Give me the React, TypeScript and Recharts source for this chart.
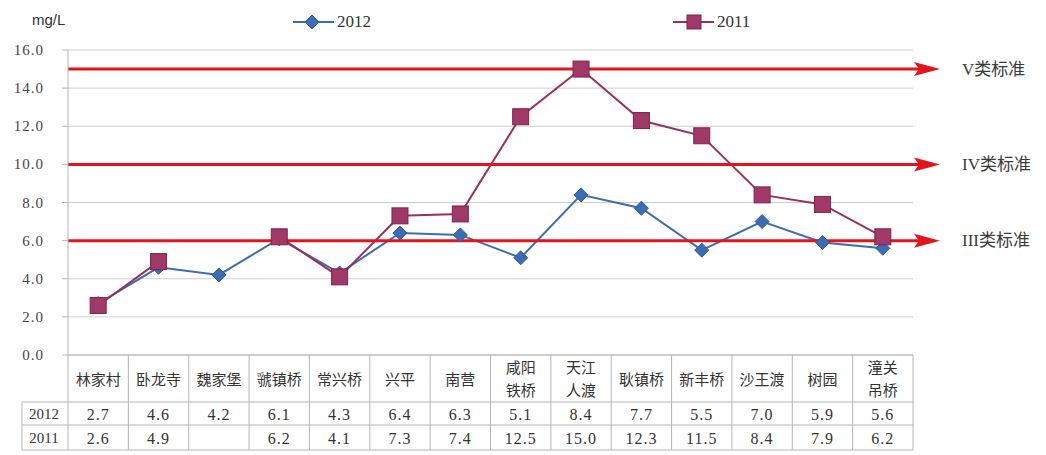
import React from "react";
import { CartesianGrid, Line, LineChart, ReferenceLine, XAxis, YAxis } from "recharts";

const sites = [
  "林家村", "卧龙寺", "魏家堡", "虢镇桥", "常兴桥", "兴平", "南营",
  "咸阳\n铁桥", "天江\n人渡", "耿镇桥", "新丰桥", "沙王渡", "树园", "潼关\n吊桥",
];
const values2012 = [2.7, 4.6, 4.2, 6.1, 4.3, 6.4, 6.3, 5.1, 8.4, 7.7, 5.5, 7.0, 5.9, 5.6];
const values2011 = [2.6, 4.9, null, 6.2, 4.1, 7.3, 7.4, 12.5, 15.0, 12.3, 11.5, 8.4, 7.9, 6.2];
const yTicks = [0, 2, 4, 6, 8, 10, 12, 14, 16];
const standardValues = [15, 10, 6];
const standardLabels = ["V类标准", "IV类标准", "III类标准"];

const W = 1046;
const H = 455;
const LEFT = 68;
const RIGHT_M = 133;
const COL_W = (W - LEFT - RIGHT_M) / sites.length;

const BLUE = "#3c6cb2";
const MAROON = "#98305c";
const RED = "#e3141b";
const SERIF = "Liberation Serif, DejaVu Serif, serif";
const CJK = "Liberation Serif, Noto Sans CJK SC, serif";

const data = sites.map((name, i) => ({
  name,
  y2012: values2012[i],
  y2011: values2011[i],
}));

function Diamond({ cx, cy, r = 7 }: any) {
  return (
    <polygon
      points={`${cx},${cy - r} ${cx + r},${cy} ${cx},${cy + r} ${cx - r},${cy}`}
      fill={BLUE}
      stroke="#2f5a96"
      strokeWidth={1}
    />
  );
}

function Square({ cx, cy, s = 8 }: any) {
  return (
    <rect x={cx - s} y={cy - s} width={s * 2} height={s * 2} fill="#a03868" stroke="#7e2448" strokeWidth={1} />
  );
}

function YTick(props: any) {
  const { x, y, payload } = props;
  return (
    <text x={x} y={y} textAnchor="end" dominantBaseline="central" fontSize={15} fill="#444" fontFamily={SERIF} letterSpacing={1}>
      {Number(payload.value).toFixed(1)}
    </text>
  );
}

function TableTick(props: any) {
  const { x, y, payload } = props;
  const i = payload.index;
  const left = x - COL_W / 2;
  const right = x + COL_W / 2;
  const top = y;
  const catBottom = top + 47;
  const r1 = top + 70;
  const r2 = top + 95;
  const lines = String(payload.value).split("\n");
  const v1 = values2012[i];
  const v2 = values2011[i];
  const border = "#b5b5b5";
  return (
    <g>
      <line x1={left} y1={top} x2={left} y2={r2} stroke={border} />
      {i === sites.length - 1 && <line x1={right} y1={top} x2={right} y2={r2} stroke={border} />}
      <line x1={left} y1={catBottom} x2={right} y2={catBottom} stroke={border} />
      <line x1={left} y1={r1} x2={right} y2={r1} stroke={border} />
      <line x1={left} y1={r2} x2={right} y2={r2} stroke={border} />
      {lines.length === 1 ? (
        <text x={x} y={top + 25} textAnchor="middle" dominantBaseline="central" fontSize={15} fill="#333" fontFamily={CJK}>
          {lines[0]}
        </text>
      ) : (
        lines.map((l, k) => (
          <text key={k} x={x} y={top + 13 + k * 23} textAnchor="middle" dominantBaseline="central" fontSize={15} fill="#333" fontFamily={CJK}>
            {l}
          </text>
        ))
      )}
      <text x={x} y={catBottom + 12} textAnchor="middle" dominantBaseline="central" fontSize={16} fill="#333" fontFamily={SERIF} letterSpacing={1}>
        {v1 != null ? v1.toFixed(1) : ""}
      </text>
      <text x={x} y={r1 + 13} textAnchor="middle" dominantBaseline="central" fontSize={16} fill="#333" fontFamily={SERIF} letterSpacing={1}>
        {v2 != null ? v2.toFixed(1) : ""}
      </text>
      {i === 0 && (
        <g>
          <line x1={22} y1={catBottom} x2={left} y2={catBottom} stroke={border} />
          <line x1={22} y1={r1} x2={left} y2={r1} stroke={border} />
          <line x1={22} y1={r2} x2={left} y2={r2} stroke={border} />
          <line x1={22} y1={catBottom} x2={22} y2={r2} stroke={border} />
          <text x={44} y={catBottom + 12} textAnchor="middle" dominantBaseline="central" fontSize={15} fill="#333" fontFamily={SERIF}>
            2012
          </text>
          <text x={44} y={r1 + 13} textAnchor="middle" dominantBaseline="central" fontSize={15} fill="#333" fontFamily={SERIF}>
            2011
          </text>
        </g>
      )}
    </g>
  );
}

function StandardArrow(label: string) {
  return (props: any) => {
    const { x1, y1, x2 } = props;
    const yy = y1;
    return (
      <g>
        <line x1={x1} y1={yy} x2={x2 + 6} y2={yy} stroke={RED} strokeWidth={3} />
        <polygon points={`${x2 + 1},${yy - 7} ${x2 + 27},${yy} ${x2 + 1},${yy + 7} ${x2 + 6},${yy}`} fill={RED} />
        <text x={x2 + 49} y={yy} dominantBaseline="central" fontSize={17} fill="#3a3a3a" fontFamily={CJK}>
          {label}
        </text>
      </g>
    );
  };
}

function LegendItem({ left, color, marker, label }: any) {
  return (
    <div style={{ position: "absolute", left, top: 12, display: "flex", alignItems: "center" }}>
      <svg width={42} height={20}>
        <line x1={0} y1={10} x2={41} y2={10} stroke={color} strokeWidth={2} />
        {marker === "diamond" ? <Diamond cx={19} cy={10} r={7} /> : <Square cx={21} cy={10} s={7} />}
      </svg>
      <span style={{ fontFamily: SERIF, fontSize: 17, color: "#333", marginLeft: 2 }}>{label}</span>
    </div>
  );
}

export default function App() {
  return (
    <div style={{ position: "absolute", left: 0, top: 0, width: W, height: H, background: "#fff" }}>
      <div style={{ position: "absolute", left: 32, top: 11, fontFamily: "Liberation Sans, Arial, sans-serif", fontSize: 15, color: "#333" }}>
        mg/L
      </div>
      <LegendItem left={293} color={BLUE} marker="diamond" label="2012" />
      <LegendItem left={673} color={MAROON} marker="square" label="2011" />
      <LineChart width={W} height={H} data={data} margin={{ top: 50, right: RIGHT_M, bottom: 0, left: 0 }}>
        <CartesianGrid vertical={false} stroke="#cfcfcf" />
        <XAxis
          dataKey="name"
          scale="band"
          interval={0}
          height={100}
          tickLine={false}
          tickSize={0}
          tickMargin={0}
          axisLine={{ stroke: "#b5b5b5" }}
          tick={<TableTick />}
        />
        <YAxis
          domain={[0, 16]}
          ticks={yTicks}
          width={LEFT}
          tickSize={6}
          tickMargin={18}
          tickLine={{ stroke: "#b5b5b5" }}
          axisLine={{ stroke: "#b5b5b5" }}
          tick={<YTick />}
        />
        <Line
          dataKey="y2012"
          stroke={BLUE}
          strokeWidth={2}
          isAnimationActive={false}
          dot={(p: any) => (p.value == null ? <g key={p.index} /> : <Diamond key={p.index} cx={p.cx} cy={p.cy} />)}
        />
        <Line
          dataKey="y2011"
          stroke={MAROON}
          strokeWidth={2}
          isAnimationActive={false}
          dot={(p: any) => (p.value == null ? <g key={p.index} /> : <Square key={p.index} cx={p.cx} cy={p.cy} />)}
        />
        {standardValues.map((v, i) => (
          <ReferenceLine key={i} y={v} shape={StandardArrow(standardLabels[i])} ifOverflow="visible" />
        ))}
      </LineChart>
    </div>
  );
}
